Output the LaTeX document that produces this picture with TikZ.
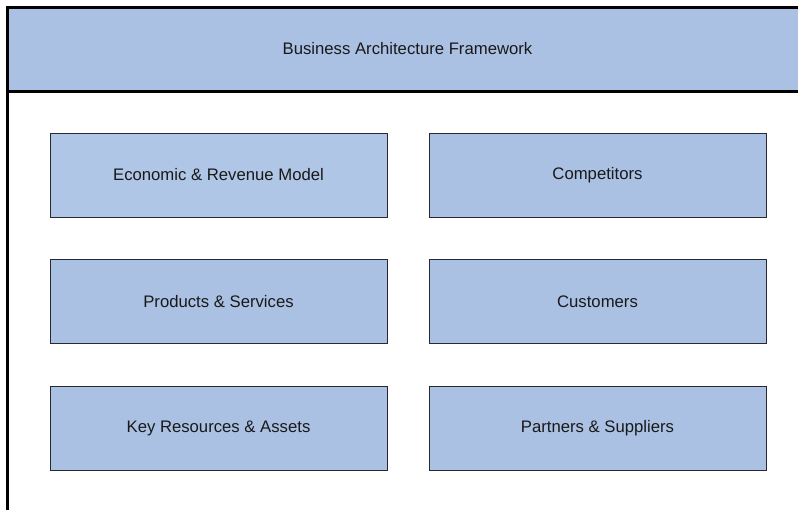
\documentclass[tikz,border=0pt]{standalone}
\usepackage{fontspec}
\setmainfont{Liberation Sans}
\definecolor{boxblue}{RGB}{171,193,227}
\definecolor{boxblueL}{RGB}{176,198,230}
\definecolor{boxedge}{RGB}{40,40,48}
\begin{document}
\begin{tikzpicture}[x=1pt,y=-1pt,
  card/.style={draw=boxedge, line width=1pt, fill=boxblue, minimum width=337pt, minimum height=84pt, inner sep=0pt,
    font=\fontsize{16.7}{20}\selectfont, text=black!90},
  frameline/.style={line width=3pt, black}]
\useasboundingbox (0,0) rectangle (798,509);
\clip (0,0) rectangle (798,509);
\fill[boxblue] (7,7) rectangle (812,91);
\coordinate (tl) at (7,7);
\coordinate (tr) at (812,7);
\coordinate (hl) at (7,91);
\coordinate (hr) at (812,91);
\coordinate (bl) at (7,520);
\draw[frameline] (tr) -- (tl) -- (bl);
\draw[frameline] (hl) -- (hr);
\node[font=\fontsize{16.7}{20}\selectfont, text=black!90] (title) at (407.5,49) {Business Architecture Framework};
\node[card, fill=boxblueL] (econ) at (218.5,175) {Economic \& Revenue Model};
\node[card] (comp) at (597.5,175) {Competitors};
\node[card] (prod) at (218.5,301.5) {Products \& Services};
\node[card] (cust) at (597.5,301.5) {Customers};
\node[card] (keyr) at (218.5,428) {Key Resources \& Assets};
\node[card] (part) at (597.5,428) {Partners \& Suppliers};
\end{tikzpicture}
\end{document}
